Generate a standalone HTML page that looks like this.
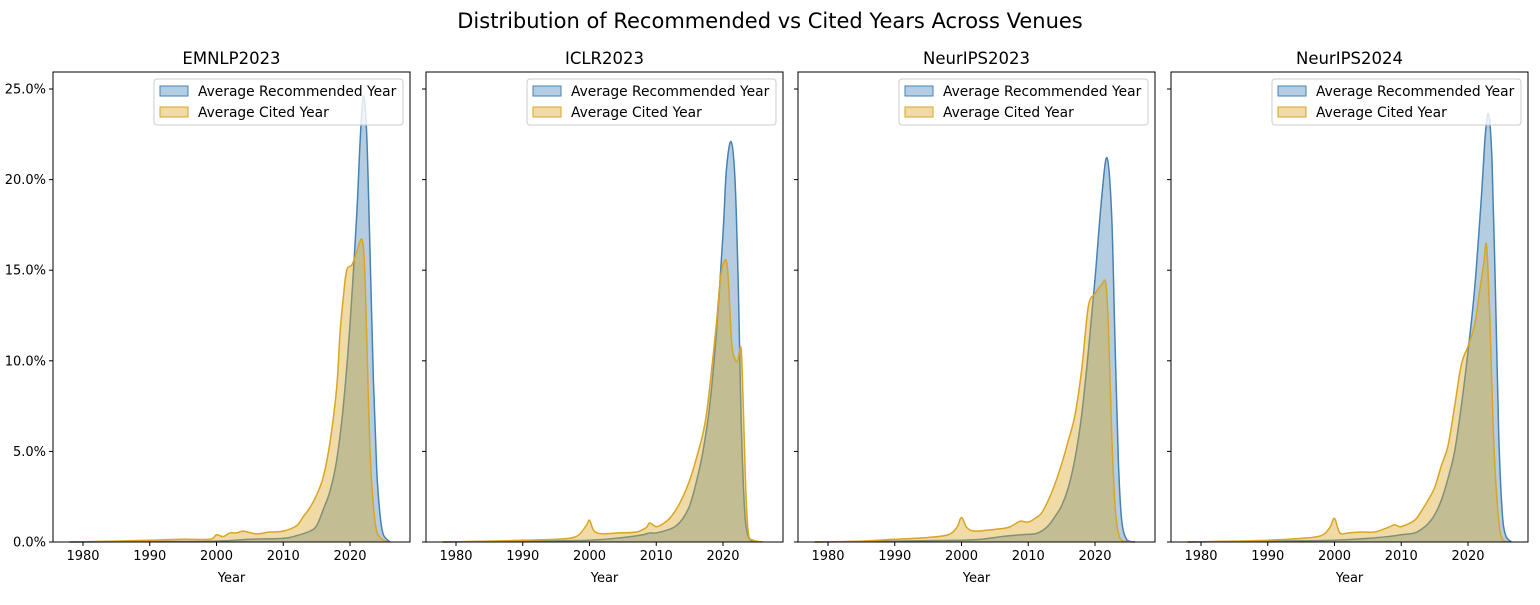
<!DOCTYPE html>
<html><head><meta charset="utf-8"><style>
body{margin:0;background:#fff;}
svg text{font-family:"DejaVu Sans","Liberation Sans",sans-serif;}
</style></head><body>
<svg id="chart" width="1540" height="600" xmlns="http://www.w3.org/2000/svg">
<rect width="1540" height="600" fill="#fff"/>
<text x="770" y="28" text-anchor="middle" font-size="21" fill="#000">Distribution of Recommended vs Cited Years Across Venues</text>
</svg>
<script>
const venues = ["EMNLP2023","ICLR2023","NeurIPS2023","NeurIPS2024"];
const xTicks = [1980,1990,2000,2010,2020];
const yTicks = [0,5,10,15,20,25];
const yTickLabels = ["0.0%","5.0%","10.0%","15.0%","20.0%","25.0%"];
const recYears0 = [1978,1990,2000,2005,2010,2012,2014,2015,2016,2017,2018,2019,2020,2021,2021.5,2022,2022.5,2023,2023.5,2024,2024.5,2025,2026];
const recVals0  = [0,0.02,0.05,0.15,0.2,0.35,0.6,0.9,1.8,2.8,4.5,7.5,12,18,22,24.6,22.5,16,9,4,1.5,0.4,0];
const citYears0 = [1978,1985,1990,1995,1999,2000,2001,2002,2003,2004,2006,2008,2010,2012,2013,2014,2015,2016,2017,2018,2018.5,2019,2019.5,2020.3,2021,2021.8,2022.2,2022.6,2023,2023.5,2024,2025,2026];
const citVals0  = [0,0.05,0.1,0.15,0.15,0.4,0.3,0.5,0.5,0.6,0.45,0.55,0.6,0.9,1.4,1.9,2.6,3.6,5.5,8.5,11.5,13.5,15,15.3,16,16.7,15,10,5,2,0.6,0.1,0];
const recYears1 = [1978,1990,2000,2005,2008,2009,2010,2012,2013,2014,2015,2016,2017,2018,2019,2020,2020.5,2021.2,2021.8,2022.3,2022.7,2023.2,2023.7,2024.5];
const recVals1  = [0,0.05,0.1,0.25,0.4,0.5,0.5,0.7,0.9,1.3,2,3.3,5,7.5,11.5,17,20.5,22.1,20,14,7,2,0.4,0];
const citYears1 = [1978,1985,1990,1995,1998,1999.5,2000,2000.7,2002,2004,2007,2008.5,2009,2010,2011,2012,2013,2014,2015,2016,2017,2017.5,2018,2019,2019.6,2020.2,2020.7,2021.3,2021.8,2022.2,2022.7,2023,2023.4,2023.8,2024.5,2026];
const citVals1  = [0,0.05,0.1,0.15,0.3,0.9,1.2,0.6,0.45,0.5,0.55,0.8,1.05,0.85,1.0,1.3,1.8,2.5,3.4,4.6,6,7,8.5,12,14.5,15.5,15,11,10.1,10,10.7,8,3,0.5,0.1,0];
const recYears2 = [1978,1990,2000,2003,2006,2009,2011,2012,2013,2014,2015,2016,2017,2018,2019,2020,2021,2021.8,2022.5,2023,2023.5,2024,2024.8,2026];
const recVals2  = [0,0.05,0.1,0.15,0.3,0.4,0.45,0.6,0.9,1.4,2,3,4.6,7,10.5,14.5,19,21.2,18,11,4.5,1.2,0.1,0];
const citYears2 = [1978,1985,1990,1995,1998,1999.3,2000,2000.8,2002,2005,2007,2008.5,2009,2010,2011,2012,2013,2014,2015,2016,2017,2018,2019,2020,2021,2021.6,2022,2022.5,2023,2023.5,2024.2,2026];
const citVals2  = [0,0.05,0.15,0.25,0.4,0.8,1.35,0.8,0.6,0.7,0.8,1.1,1.15,1.1,1.3,1.6,2.3,3.2,4.3,5.6,7,9.5,13,13.7,14.2,14.3,12,6,2,0.5,0.05,0];
const recYears3 = [1978,1990,2000,2005,2008,2010,2012,2013,2014,2015,2016,2017,2018,2019,2020,2021,2022,2022.6,2023.1,2023.6,2024.1,2024.6,2025.1,2025.6,2026.5];
const recVals3  = [0,0.05,0.1,0.2,0.3,0.4,0.5,0.7,1.0,1.5,2.3,3.5,5,7.5,10.5,14,19,22.5,23.6,21,14,6,1.8,0.4,0];
const citYears3 = [1978,1985,1990,1995,1998,1999.3,2000,2000.8,2002,2004,2006,2008,2009,2010,2012,2013,2014,2015,2016,2017,2018,2019,2020,2021,2021.8,2022.4,2022.8,2023.3,2023.8,2024.3,2024.8,2025.3,2026];
const citVals3  = [0,0.05,0.1,0.2,0.35,0.8,1.3,0.5,0.5,0.55,0.55,0.8,0.95,0.85,1.2,1.7,2.3,3,4.2,5.3,7.5,9.8,10.8,12,14,15.5,16.3,12,6,2.5,0.6,0.1,0];
const recYears=[recYears0,recYears1,recYears2,recYears3], recVals=[recVals0,recVals1,recVals2,recVals3];
const citYears=[citYears0,citYears1,citYears2,citYears3], citVals=[citVals0,citVals1,citVals2,citVals3];

const NS="http://www.w3.org/2000/svg";
const svg=document.getElementById('chart');
const panelLefts=[53,426,798,1171], PW=357, PT=72, PB=542;
const FS=13.8;
function mk(tag,attrs,parent){const e=document.createElementNS(NS,tag);for(const k in attrs)e.setAttribute(k,attrs[k]);(parent||svg).appendChild(e);return e;}
function yS(v){return PB-v*18.12;}
function pathFor(xs,vs,xS){
  const pts=xs.map((x,i)=>[xS(x),yS(vs[i])]);
  let d='M'+pts[0][0].toFixed(2)+','+pts[0][1].toFixed(2);
  for(let i=0;i<pts.length-1;i++){
    const p0=pts[Math.max(0,i-1)],p1=pts[i],p2=pts[i+1],p3=pts[Math.min(pts.length-1,i+2)];
    const c1=[p1[0]+(p2[0]-p0[0])/6,p1[1]+(p2[1]-p0[1])/6];
    const c2=[p2[0]-(p3[0]-p1[0])/6,p2[1]-(p3[1]-p1[1])/6];
    c1[1]=Math.min(c1[1],PB);c2[1]=Math.min(c2[1],PB);
    d+=` C${c1[0].toFixed(2)},${c1[1].toFixed(2)} ${c2[0].toFixed(2)},${c2[1].toFixed(2)} ${p2[0].toFixed(2)},${p2[1].toFixed(2)}`;
  }
  return {d, x0:pts[0][0], x1:pts[pts.length-1][0]};
}
venues.forEach((name,p)=>{
  const L=panelLefts[p];
  const xS=y=>L+30+(y-1980)*6.675;
  const g=mk('g',{});
  
  
  const series=[[recYears[p],recVals[p],'#4682b4','recommended'],[citYears[p],citVals[p],'#daa520','cited']];
  series.forEach(([xs,vs,col,sn])=>{
    const r=pathFor(xs,vs,xS);
    const f=mk('path',{d:r.d+` L${r.x1},${PB} L${r.x0},${PB} Z`,fill:col,'fill-opacity':0.4,stroke:'none'},g);
    
    
    const l=mk('path',{d:r.d,fill:'none',stroke:col,'stroke-width':1.5},g);
    
    
  });
  const fr=mk('rect',{x:L,y:PT,width:PW,height:PB-PT,fill:'none',stroke:'#000','stroke-width':1},g);
  
  
  const t=mk('text',{x:L+PW/2,y:64,'text-anchor':'middle','font-size':16.5},g);
  t.textContent=name;
  
  
  xTicks.forEach(v=>{
    const x=xS(v);
    mk('line',{x1:x,x2:x,y1:PB,y2:PB+4,stroke:'#000'},g);
    const tx=mk('text',{x:x,y:PB+18,'text-anchor':'middle','font-size':13},g);
    tx.textContent=v;
    
    
  });
  yTicks.forEach((v,i)=>{
    const y=yS(v);
    mk('line',{x1:L-4,x2:L,y1:y,y2:y,stroke:'#000'},g);
    if(p===0){
      const ty=mk('text',{x:L-7,y:y+4.5,'text-anchor':'end','font-size':13},g);
      ty.textContent=yTickLabels[i];
      
      
    }
  });
  const xt=mk('text',{x:L+PW/2,y:582,'text-anchor':'middle','font-size':13},g);
  xt.textContent='Year';
  
  
  const lg=mk('g',{},g);
  
  
  const lx=L+101, lw=249;
  mk('rect',{x:lx,y:79,width:lw,height:46,rx:3,fill:'#fff','fill-opacity':0.8,stroke:'#ccc'},lg);
  [['Average Recommended Year','#4682b4'],['Average Cited Year','#daa520']].forEach(([lab,col],i)=>{
    const yy=86+i*21;
    mk('rect',{x:lx+6,y:yy,width:28,height:10,fill:col,'fill-opacity':0.4,stroke:col},lg);
    const tt=mk('text',{x:lx+44,y:yy+10,'font-size':FS},lg);
    tt.textContent=lab;
    
    
  });
});
</script>
</body></html>
